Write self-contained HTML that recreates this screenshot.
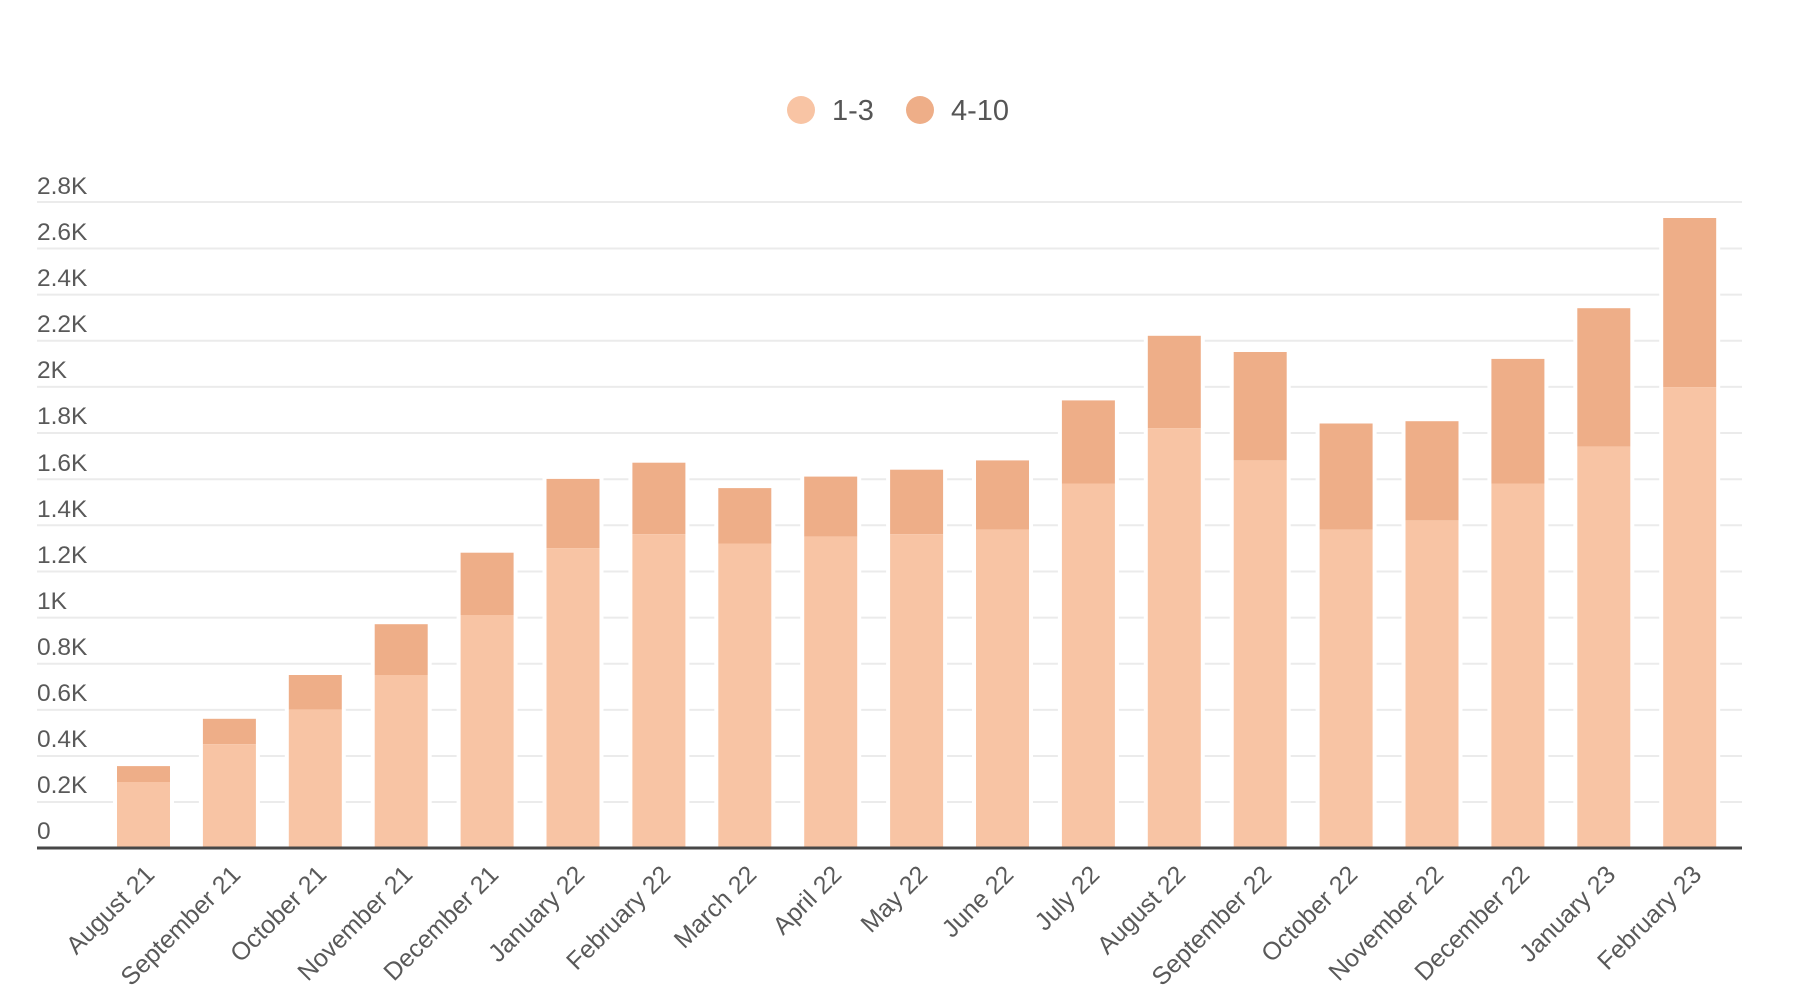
<!DOCTYPE html>
<html><head><meta charset="utf-8"><style>
html,body{margin:0;padding:0;background:#fff;}
svg{display:block;font-family:"Liberation Sans",sans-serif;}
</style></head><body>
<svg width="1800" height="1005" viewBox="0 0 1800 1005" xmlns="http://www.w3.org/2000/svg">
<g stroke="#ebebeb" stroke-width="2">
<line x1="37" x2="1742" y1="202" y2="202"/><line x1="37" x2="1742" y1="248.5" y2="248.5"/>
<line x1="37" x2="1742" y1="294.6" y2="294.6"/><line x1="37" x2="1742" y1="340.8" y2="340.8"/>
<line x1="37" x2="1742" y1="386.9" y2="386.9"/><line x1="37" x2="1742" y1="433" y2="433"/>
<line x1="37" x2="1742" y1="479.2" y2="479.2"/><line x1="37" x2="1742" y1="525.3" y2="525.3"/>
<line x1="37" x2="1742" y1="571.5" y2="571.5"/><line x1="37" x2="1742" y1="617.6" y2="617.6"/>
<line x1="37" x2="1742" y1="663.7" y2="663.7"/><line x1="37" x2="1742" y1="709.9" y2="709.9"/>
<line x1="37" x2="1742" y1="756" y2="756"/><line x1="37" x2="1742" y1="802" y2="802"/>
</g>
<g fill="#595959" font-size="24.5">
<text x="37" y="194">2.8K</text><text x="37" y="240">2.6K</text><text x="37" y="286">2.4K</text>
<text x="37" y="332">2.2K</text><text x="37" y="378">2K</text><text x="37" y="424">1.8K</text>
<text x="37" y="471">1.6K</text><text x="37" y="517">1.4K</text><text x="37" y="563">1.2K</text>
<text x="37" y="609">1K</text><text x="37" y="655">0.8K</text><text x="37" y="701">0.6K</text>
<text x="37" y="747">0.4K</text><text x="37" y="793">0.2K</text><text x="37" y="839">0</text>
</g>
<!-- legend -->
<circle cx="801" cy="110" r="14" fill="#f8c4a4"/><text x="832" y="120" font-size="29" fill="#555">1-3</text>
<circle cx="920" cy="110" r="14" fill="#eeae88"/><text x="951" y="120" font-size="29" fill="#555">4-10</text>
<g id="bars">
<g transform="translate(117,0)"><rect x="-4" y="762" width="61" height="86" fill="#fff"/><rect x="0" y="766.1" width="53" height="16" fill="#eeae88"/><rect x="0" y="782" width="53" height="66" fill="#f8c4a4"/></g>
<g transform="translate(202.9,0)"><rect x="-4" y="715" width="61" height="133" fill="#fff"/><rect x="0" y="718.8" width="53" height="25.4" fill="#eeae88"/><rect x="0" y="744.2" width="53" height="103.8" fill="#f8c4a4"/></g>
<g transform="translate(288.8,0)"><rect x="-4" y="671" width="61" height="177" fill="#fff"/><rect x="0" y="675" width="53" height="34.6" fill="#eeae88"/><rect x="0" y="709.6" width="53" height="138.4" fill="#f8c4a4"/></g>
<g transform="translate(374.7,0)"><rect x="-4" y="620" width="61" height="228" fill="#fff"/><rect x="0" y="624.2" width="53" height="50.8" fill="#eeae88"/><rect x="0" y="675" width="53" height="173" fill="#f8c4a4"/></g>
<g transform="translate(460.6,0)"><rect x="-4" y="549" width="61" height="299" fill="#fff"/><rect x="0" y="552.7" width="53" height="62.3" fill="#eeae88"/><rect x="0" y="615" width="53" height="233" fill="#f8c4a4"/></g>
<g transform="translate(546.5,0)"><rect x="-4" y="475" width="61" height="373" fill="#fff"/><rect x="0" y="478.9" width="53" height="69.2" fill="#eeae88"/><rect x="0" y="548.1" width="53" height="299.9" fill="#f8c4a4"/></g>
<g transform="translate(632.4,0)"><rect x="-4" y="459" width="61" height="389" fill="#fff"/><rect x="0" y="462.7" width="53" height="71.5" fill="#eeae88"/><rect x="0" y="534.2" width="53" height="313.8" fill="#f8c4a4"/></g>
<g transform="translate(718.3,0)"><rect x="-4" y="484" width="61" height="364" fill="#fff"/><rect x="0" y="488.1" width="53" height="55.4" fill="#eeae88"/><rect x="0" y="543.5" width="53" height="304.5" fill="#f8c4a4"/></g>
<g transform="translate(804.2,0)"><rect x="-4" y="473" width="61" height="375" fill="#fff"/><rect x="0" y="476.6" width="53" height="60" fill="#eeae88"/><rect x="0" y="536.6" width="53" height="311.4" fill="#f8c4a4"/></g>
<g transform="translate(890.1,0)"><rect x="-4" y="466" width="61" height="382" fill="#fff"/><rect x="0" y="469.7" width="53" height="64.5" fill="#eeae88"/><rect x="0" y="534.2" width="53" height="313.8" fill="#f8c4a4"/></g>
<g transform="translate(976,0)"><rect x="-4" y="456" width="61" height="392" fill="#fff"/><rect x="0" y="460.4" width="53" height="69.2" fill="#eeae88"/><rect x="0" y="529.6" width="53" height="318.4" fill="#f8c4a4"/></g>
<g transform="translate(1061.9,0)"><rect x="-4" y="396" width="61" height="452" fill="#fff"/><rect x="0" y="400.4" width="53" height="83.1" fill="#eeae88"/><rect x="0" y="483.5" width="53" height="364.5" fill="#f8c4a4"/></g>
<g transform="translate(1147.8,0)"><rect x="-4" y="332" width="61" height="516" fill="#fff"/><rect x="0" y="335.8" width="53" height="92.3" fill="#eeae88"/><rect x="0" y="428.1" width="53" height="419.9" fill="#f8c4a4"/></g>
<g transform="translate(1233.7,0)"><rect x="-4" y="348" width="61" height="500" fill="#fff"/><rect x="0" y="352" width="53" height="108.4" fill="#eeae88"/><rect x="0" y="460.4" width="53" height="387.6" fill="#f8c4a4"/></g>
<g transform="translate(1319.6,0)"><rect x="-4" y="419" width="61" height="429" fill="#fff"/><rect x="0" y="423.5" width="53" height="106.1" fill="#eeae88"/><rect x="0" y="529.6" width="53" height="318.4" fill="#f8c4a4"/></g>
<g transform="translate(1405.5,0)"><rect x="-4" y="417" width="61" height="431" fill="#fff"/><rect x="0" y="421.2" width="53" height="99.2" fill="#eeae88"/><rect x="0" y="520.4" width="53" height="327.6" fill="#f8c4a4"/></g>
<g transform="translate(1491.4,0)"><rect x="-4" y="355" width="61" height="493" fill="#fff"/><rect x="0" y="358.9" width="53" height="124.6" fill="#eeae88"/><rect x="0" y="483.5" width="53" height="364.5" fill="#f8c4a4"/></g>
<g transform="translate(1577.3,0)"><rect x="-4" y="304" width="61" height="544" fill="#fff"/><rect x="0" y="308.2" width="53" height="138.4" fill="#eeae88"/><rect x="0" y="446.6" width="53" height="401.4" fill="#f8c4a4"/></g>
<g transform="translate(1663.2,0)"><rect x="-4" y="214" width="61" height="634" fill="#fff"/><rect x="0" y="218" width="53" height="169.1" fill="#eeae88"/><rect x="0" y="387.1" width="53" height="460.9" fill="#f8c4a4"/></g>
</g>
<line x1="37" x2="1742" y1="848" y2="848" stroke="#474747" stroke-width="3"/>
<g fill="#595959" font-size="25" text-anchor="end">
<text transform="translate(156,876) rotate(-45)">August 21</text>
<text transform="translate(242,876) rotate(-45)">September 21</text>
<text transform="translate(328,876) rotate(-45)">October 21</text>
<text transform="translate(414,876) rotate(-45)">November 21</text>
<text transform="translate(500,876) rotate(-45)">December 21</text>
<text transform="translate(586,876) rotate(-45)">January 22</text>
<text transform="translate(672,876) rotate(-45)">February 22</text>
<text transform="translate(758,876) rotate(-45)">March 22</text>
<text transform="translate(843,876) rotate(-45)">April 22</text>
<text transform="translate(929,876) rotate(-45)">May 22</text>
<text transform="translate(1015,876) rotate(-45)">June 22</text>
<text transform="translate(1101,876) rotate(-45)">July 22</text>
<text transform="translate(1187,876) rotate(-45)">August 22</text>
<text transform="translate(1273,876) rotate(-45)">September 22</text>
<text transform="translate(1359,876) rotate(-45)">October 22</text>
<text transform="translate(1445,876) rotate(-45)">November 22</text>
<text transform="translate(1531,876) rotate(-45)">December 22</text>
<text transform="translate(1617,876) rotate(-45)">January 23</text>
<text transform="translate(1703,876) rotate(-45)">February 23</text>
</g>
</svg>
</body></html>
